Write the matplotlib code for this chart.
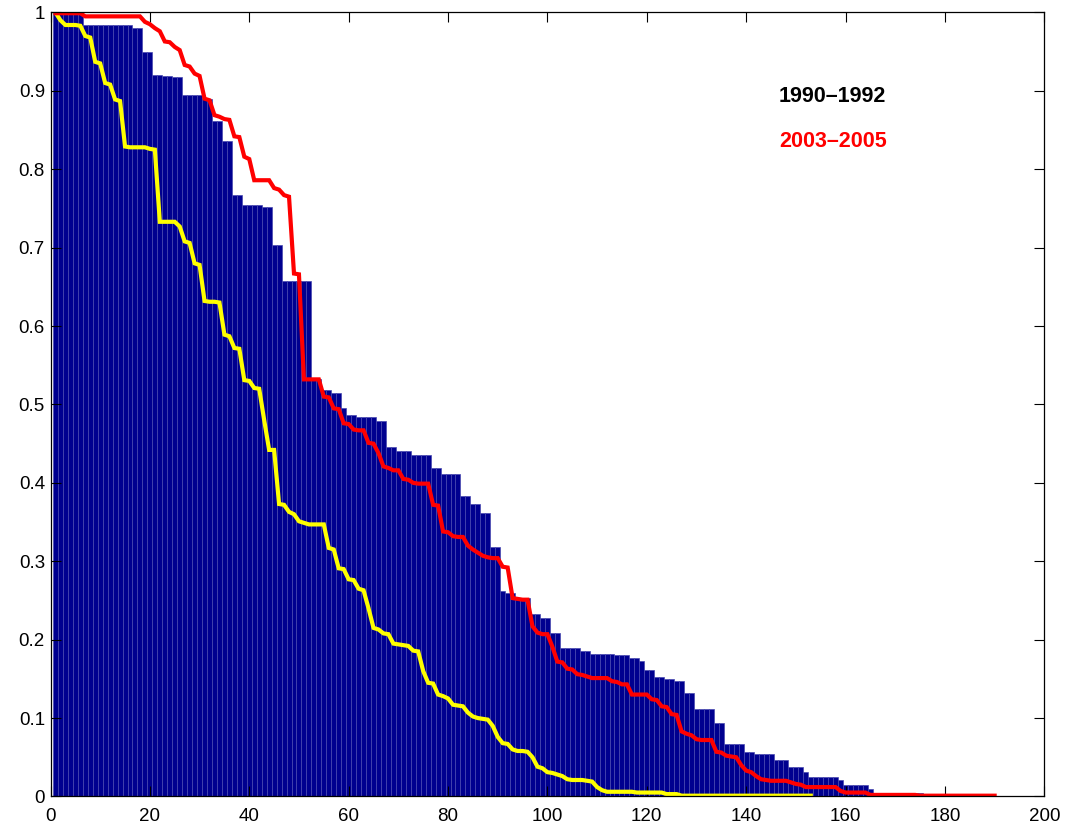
import numpy as np
import matplotlib
matplotlib.use("Agg")
import matplotlib.pyplot as plt

plt.rcParams['font.family'] = ['Liberation Sans', 'DejaVu Sans']

# bar heights, one per rank 1..194
bars = [
    0.999, 0.999, 0.999, 0.999, 0.999, 0.999, 0.984, 0.984, 0.984, 0.984,
    0.984, 0.984, 0.984, 0.984, 0.984, 0.984, 0.980, 0.980, 0.949, 0.949,
    0.920, 0.920, 0.919, 0.919, 0.918, 0.918, 0.895, 0.895, 0.895, 0.895,
    0.890, 0.890, 0.862, 0.862, 0.836, 0.836, 0.767, 0.767, 0.754, 0.754,
    0.754, 0.754, 0.752, 0.752, 0.703, 0.703, 0.657, 0.657, 0.657, 0.657,
    0.657, 0.657, 0.532, 0.532, 0.518, 0.518, 0.514, 0.514, 0.496, 0.486,
    0.486, 0.484, 0.484, 0.484, 0.484, 0.479, 0.479, 0.446, 0.446, 0.441,
    0.441, 0.441, 0.436, 0.436, 0.436, 0.436, 0.419, 0.419, 0.411, 0.411,
    0.411, 0.411, 0.383, 0.383, 0.373, 0.373, 0.361, 0.361, 0.318, 0.318,
    0.262, 0.260, 0.260, 0.253, 0.253, 0.253, 0.233, 0.233, 0.227, 0.227,
    0.208, 0.208, 0.189, 0.189, 0.189, 0.189, 0.186, 0.186, 0.182, 0.182,
    0.182, 0.182, 0.182, 0.180, 0.180, 0.180, 0.176, 0.176, 0.173, 0.161,
    0.161, 0.152, 0.152, 0.150, 0.150, 0.147, 0.147, 0.132, 0.132, 0.111,
    0.111, 0.111, 0.111, 0.094, 0.094, 0.067, 0.067, 0.067, 0.067, 0.057,
    0.057, 0.054, 0.054, 0.054, 0.054, 0.047, 0.047, 0.047, 0.038, 0.038,
    0.038, 0.031, 0.025, 0.025, 0.025, 0.025, 0.025, 0.025, 0.021, 0.015,
    0.015, 0.015, 0.015, 0.015, 0.010, 0.005, 0.005, 0.005, 0.005, 0.004,
    0.004, 0.004, 0.004, 0.004, 0.004, 0.003, 0.003, 0.003, 0.003, 0.003,
    0.003, 0.003, 0.003, 0.003, 0.003, 0.003, 0.003, 0.003, 0.003, 0.001,
    0.001, 0.001, 0.001, 0.001,
]

# yellow curve, ranks 1..153
yellow = [
    1.000, 0.990, 0.984, 0.984, 0.984, 0.983, 0.970, 0.968, 0.937, 0.935,
    0.910, 0.908, 0.889, 0.887, 0.829, 0.828, 0.828, 0.828, 0.828, 0.826,
    0.825, 0.733, 0.733, 0.733, 0.733, 0.727, 0.708, 0.706, 0.680, 0.678,
    0.632, 0.631, 0.631, 0.630, 0.589, 0.587, 0.572, 0.571, 0.531, 0.530,
    0.521, 0.520, 0.480, 0.442, 0.442, 0.373, 0.372, 0.363, 0.360, 0.351,
    0.349, 0.347, 0.347, 0.347, 0.347, 0.317, 0.315, 0.291, 0.290, 0.277,
    0.276, 0.265, 0.263, 0.240, 0.215, 0.213, 0.208, 0.207, 0.195, 0.194,
    0.193, 0.192, 0.186, 0.185, 0.160, 0.145, 0.144, 0.130, 0.128, 0.125,
    0.117, 0.116, 0.115, 0.107, 0.102, 0.100, 0.099, 0.098, 0.090, 0.076,
    0.068, 0.067, 0.060, 0.058, 0.058, 0.057, 0.050, 0.038, 0.036, 0.031,
    0.030, 0.028, 0.026, 0.022, 0.021, 0.021, 0.021, 0.020, 0.019, 0.012,
    0.008, 0.006, 0.006, 0.006, 0.006, 0.006, 0.006, 0.005, 0.005, 0.005,
    0.005, 0.005, 0.005, 0.003, 0.003, 0.003, 0.001, 0.001, 0.001, 0.001,
    0.001, 0.001, 0.001, 0.001, 0.001, 0.001, 0.001, 0.001, 0.001, 0.001,
    0.001, 0.001, 0.001, 0.001, 0.001, 0.001, 0.001, 0.001, 0.001, 0.001,
    0.001, 0.001, 0.001,
]

# red curve, ranks 1..190
red = [
    0.999, 0.999, 0.999, 0.999, 0.999, 0.999, 0.995, 0.995, 0.995, 0.995,
    0.995, 0.995, 0.995, 0.995, 0.995, 0.995, 0.995, 0.995, 0.988, 0.985,
    0.980, 0.976, 0.963, 0.962, 0.956, 0.952, 0.933, 0.931, 0.922, 0.919,
    0.890, 0.888, 0.869, 0.867, 0.864, 0.863, 0.842, 0.841, 0.816, 0.813,
    0.786, 0.786, 0.786, 0.786, 0.776, 0.774, 0.767, 0.765, 0.667, 0.666,
    0.532, 0.532, 0.532, 0.532, 0.510, 0.509, 0.495, 0.494, 0.476, 0.475,
    0.468, 0.467, 0.467, 0.451, 0.450, 0.438, 0.421, 0.419, 0.416, 0.416,
    0.405, 0.404, 0.400, 0.399, 0.399, 0.399, 0.372, 0.371, 0.338, 0.337,
    0.332, 0.331, 0.331, 0.320, 0.315, 0.311, 0.307, 0.305, 0.304, 0.304,
    0.293, 0.292, 0.253, 0.252, 0.251, 0.251, 0.217, 0.209, 0.207, 0.207,
    0.191, 0.172, 0.171, 0.163, 0.162, 0.156, 0.155, 0.153, 0.151, 0.151,
    0.151, 0.151, 0.147, 0.146, 0.143, 0.143, 0.130, 0.130, 0.130, 0.130,
    0.124, 0.123, 0.115, 0.114, 0.105, 0.104, 0.083, 0.080, 0.078, 0.073,
    0.072, 0.072, 0.072, 0.057, 0.056, 0.052, 0.051, 0.050, 0.040, 0.033,
    0.031, 0.026, 0.022, 0.021, 0.020, 0.020, 0.020, 0.020, 0.018, 0.016,
    0.015, 0.012, 0.012, 0.012, 0.012, 0.012, 0.012, 0.012, 0.007, 0.005,
    0.005, 0.005, 0.005, 0.005, 0.002, 0.002, 0.002, 0.002, 0.002, 0.002,
    0.002, 0.002, 0.002, 0.002, 0.001, 0.001, 0.001, 0.001, 0.001, 0.001,
    0.001, 0.001, 0.001, 0.001, 0.001, 0.001, 0.001, 0.001, 0.001, 0.001,
]

label_a = '1990\u20131992'
label_b = '2003\u20132005'

fig = plt.figure(figsize=(10.7, 8.3), dpi=100)
ax = fig.add_axes([0.0472, 0.0404, 0.9288, 0.9446])

xb = np.arange(1, len(bars) + 1)
ax.bar(xb, bars, width=1.0, color='#00008f', edgecolor='#4848b0', linewidth=0.5)

ax.plot(np.arange(1, len(yellow) + 1), yellow, color='#ffff00', lw=3.0,
        solid_joinstyle='miter')
ax.plot(np.arange(1, len(red) + 1), red, color='#ff0000', lw=3.0,
        solid_joinstyle='miter')

ax.text(146.6, 0.886, label_a, color='black', fontsize=15.5, fontweight='bold')
ax.text(146.6, 0.829, label_b, color='red', fontsize=15.5, fontweight='bold')

ax.set_xlim(0, 200)
ax.set_ylim(0, 1)
ax.set_xticks(np.arange(0, 201, 20))
ax.set_yticks(np.arange(0, 1.01, 0.1))
ax.set_yticklabels(['0', '0.1', '0.2', '0.3', '0.4', '0.5', '0.6', '0.7',
                    '0.8', '0.9', '1'])
ax.tick_params(direction='in', length=7, width=0.8, top=True, right=True,
               labelsize=13.5)
ax.tick_params(axis='x', pad=8)
ax.tick_params(axis='y', pad=4)
for s in ax.spines.values():
    s.set_linewidth(0.9)

fig.savefig('out.png', dpi=100)
